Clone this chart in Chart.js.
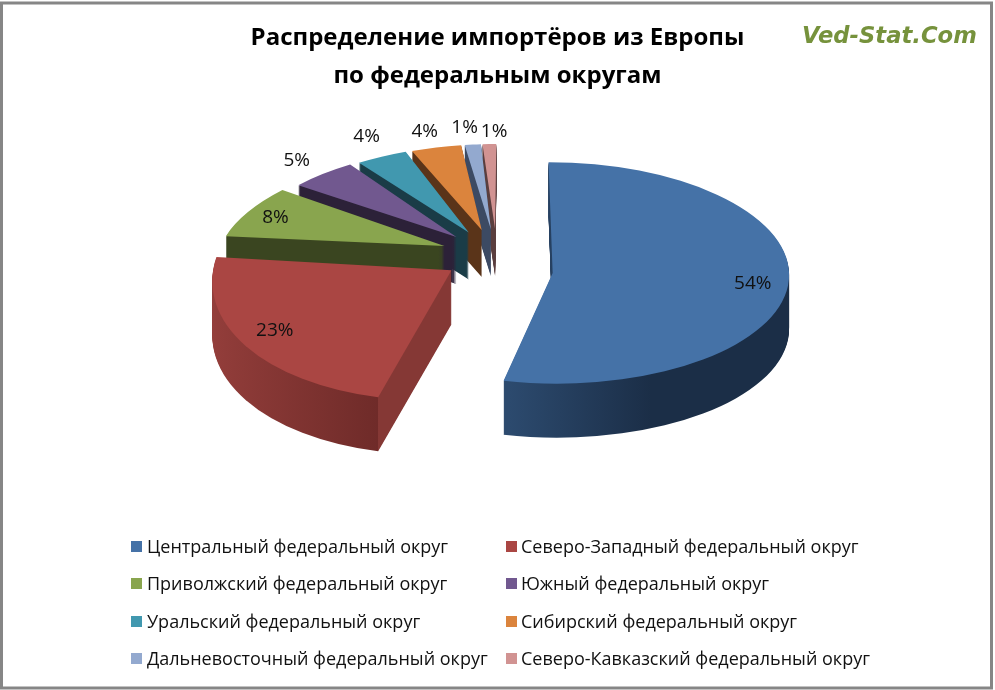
<!DOCTYPE html>
<html lang="ru">
<head>
<meta charset="utf-8">
<title>Распределение импортёров из Европы</title>
<script src="https://cdn.jsdelivr.net/npm/chart.js@4/dist/chart.umd.min.js"></script>
<style>
  html, body { margin: 0; padding: 0; background: #fff; }
  #wrap { position: relative; width: 995px; height: 690px; overflow: hidden; }
  #chart { position: absolute; left: 0; top: 0; }
  #mark { position: absolute; left: 802px; top: 22px; font: italic bold 22.7px "DejaVu Sans"; color: #76923c; white-space: nowrap; }
  .item { position: absolute; font: 18px "Open Sans"; color: #111; white-space: nowrap; line-height: 24px; }
  .box { position: absolute; width: 11px; height: 11px; }
</style>
</head>
<body>
<div id="wrap">
  <canvas id="chart" width="995" height="690"></canvas>
  <div id="mark">Ved-Stat.Com</div>
  <div id="legend"></div>
</div>
<script>
"use strict";

// Chart data
const categories = [
  "Центральный федеральный округ",
  "Северо-Западный федеральный округ",
  "Приволжский федеральный округ",
  "Южный федеральный округ",
  "Уральский федеральный округ",
  "Сибирский федеральный округ",
  "Дальневосточный федеральный округ",
  "Северо-Кавказский федеральный округ"
];
const shares = [53.6, 23, 8, 5, 4, 4, 1.3, 1.1];
const titleLines = ["Распределение импортёров из Европы", "по федеральным округам"];

// Slice colours, top faces and sides
const topColors = ["#4572a7", "#aa4643", "#89a54e", "#71588f", "#4198af", "#db843d", "#93a9cf", "#d19392"];
const sideLeft = ["#2c4a6e", "#943e3b", "#3a4520", "#2c2138", "#1a3c47", "#5a3419", "#3c4a63", "#5a3e3e"];
const sideRight = ["#1b2e47", "#6f2b29", "#3a4520", "#2c2138", "#1a3c47", "#5a3419", "#3c4a63", "#5a3e3e"];
const cutFaceRed = "#853835";

// Small hand nudges for the percent labels, the original spreads them to avoid overlap
const labelNudgeX = [0, -2, -2, 5, 5, -1, -4, 6];
const labelNudgeY = [0, -4, 0, 1, -3, 3, 3, 7];

// Fake 3D view: where the pie sits on the page and how far slices are pulled out
const viewX = 497;
const viewY = 254;
const explodeX = 56;
const explodeY = 26;

function sliceView(arc) {
  const mid = (arc.startAngle + arc.endAngle) / 2 + Math.PI / 2;
  const sin = Math.sin(mid);
  const cos = Math.cos(mid);
  // far slices lean in and get smaller, near ones lean out and get bigger
  const far = Math.max(cos, 0);
  const near = Math.max(-cos, 0);
  return {
    x: viewX + explodeX * sin,
    y: viewY - explodeY * cos + (arc.circumference > Math.PI ? 16 : 1),
    rx: 236 + 4 * near - 36 * far,
    ry: 106 - 21 * far + 42 * near,
    shear: cos > 0 ? sin * 0.42 : sin * near * 0.33,
    depth: cos < 0 ? 54 : 47,
    sin,
    cos
  };
}

function applyView(ctx, arc, view, drop) {
  const R = arc.outerRadius;
  ctx.transform(view.rx / R, 0, view.shear * view.ry / R, view.ry / R, view.x, view.y + drop);
  ctx.translate(-arc.x, -arc.y);
}

function sideFill(ctx, arc, i) {
  const R = arc.outerRadius;
  const g = ctx.createLinearGradient(arc.x - R, 0, arc.x + R, 0);
  if (i === 0) {
    g.addColorStop(0.4, sideLeft[i]);
    g.addColorStop(0.7, sideRight[i]);
  } else if (i === 1) {
    // hard stop where the curved wall meets the cut face
    const corner = (1 + Math.sin(arc.startAngle + Math.PI / 2)) / 2;
    g.addColorStop(0, sideLeft[i]);
    g.addColorStop(corner, sideRight[i]);
    g.addColorStop(corner, cutFaceRed);
    g.addColorStop(1, cutFaceRed);
  } else {
    g.addColorStop(0, sideLeft[i]);
    g.addColorStop(1, sideRight[i]);
  }
  return g;
}

function drawArcWith(ctx, arc, fill) {
  const copy = Object.create(arc, {
    options: { value: Object.assign({}, arc.options, { backgroundColor: fill, borderWidth: 0 }) }
  });
  copy.draw(ctx);
}

const pie3d = {
  id: "pie3d",
  beforeDatasetDraw(chart, args) {
    const ctx = chart.ctx;
    const arcs = args.meta.data;
    // back to front, so nearer slices cover the walls behind them
    for (let i = arcs.length - 1; i >= 0; i--) {
      const arc = arcs[i];
      const view = sliceView(arc);
      const fill = sideFill(ctx, arc, i);
      for (let d = view.depth; d >= 1; d--) {
        ctx.save();
        applyView(ctx, arc, view, d);
        drawArcWith(ctx, arc, fill);
        ctx.restore();
      }
      ctx.save();
      applyView(ctx, arc, view, 0);
      drawArcWith(ctx, arc, topColors[i]);
      ctx.restore();
    }
    return false;
  },
  afterDraw(chart) {
    const ctx = chart.ctx;
    const arcs = chart.getDatasetMeta(0).data;
    ctx.save();
    // outer frame
    ctx.strokeStyle = "#868686";
    ctx.lineWidth = 3;
    ctx.strokeRect(1.5, 3, 990, 685);
    // percent labels: big slices inside, small ones outside
    ctx.font = '19px "Open Sans"';
    ctx.fillStyle = "#111";
    ctx.textAlign = "center";
    ctx.textBaseline = "middle";
    arcs.forEach((arc, i) => {
      const view = sliceView(arc);
      const reach = shares[i] >= 8 ? 0.85 : 1.23;
      const px = view.x + (view.rx * view.sin - view.shear * view.ry * view.cos) * reach;
      const py = view.y - view.ry * view.cos * reach;
      ctx.fillText(Math.round(shares[i]) + "%", px + labelNudgeX[i], py + labelNudgeY[i]);
    });
    ctx.restore();
  }
};

new Chart(document.getElementById("chart"), {
  type: "pie",
  data: {
    labels: categories,
    datasets: [{ data: shares, backgroundColor: topColors, borderWidth: 0 }]
  },
  options: {
    responsive: false,
    animation: false,
    rotation: 0,
    plugins: {
      legend: { display: false },
      tooltip: { enabled: false },
      title: {
        display: true,
        text: titleLines,
        color: "#000",
        font: { family: "Open Sans", size: 24, weight: "bold", lineHeight: 1.58 },
        padding: { top: 19, bottom: 10 }
      }
    }
  },
  plugins: [pie3d]
});

// Legend: two columns, filled row by row
const legend = document.getElementById("legend");
categories.forEach((name, i) => {
  const col = i % 2;
  const row = Math.floor(i / 2);
  const top = 534 + row * 37.4;
  const box = document.createElement("div");
  box.className = "box";
  box.style.left = (col ? 506 : 131) + "px";
  box.style.top = (top + 7) + "px";
  box.style.background = topColors[i];
  legend.appendChild(box);
  const item = document.createElement("div");
  item.className = "item";
  item.style.left = (col ? 521 : 147) + "px";
  item.style.top = top + "px";
  item.textContent = name;
  legend.appendChild(item);
});
</script>
</body>
</html>
